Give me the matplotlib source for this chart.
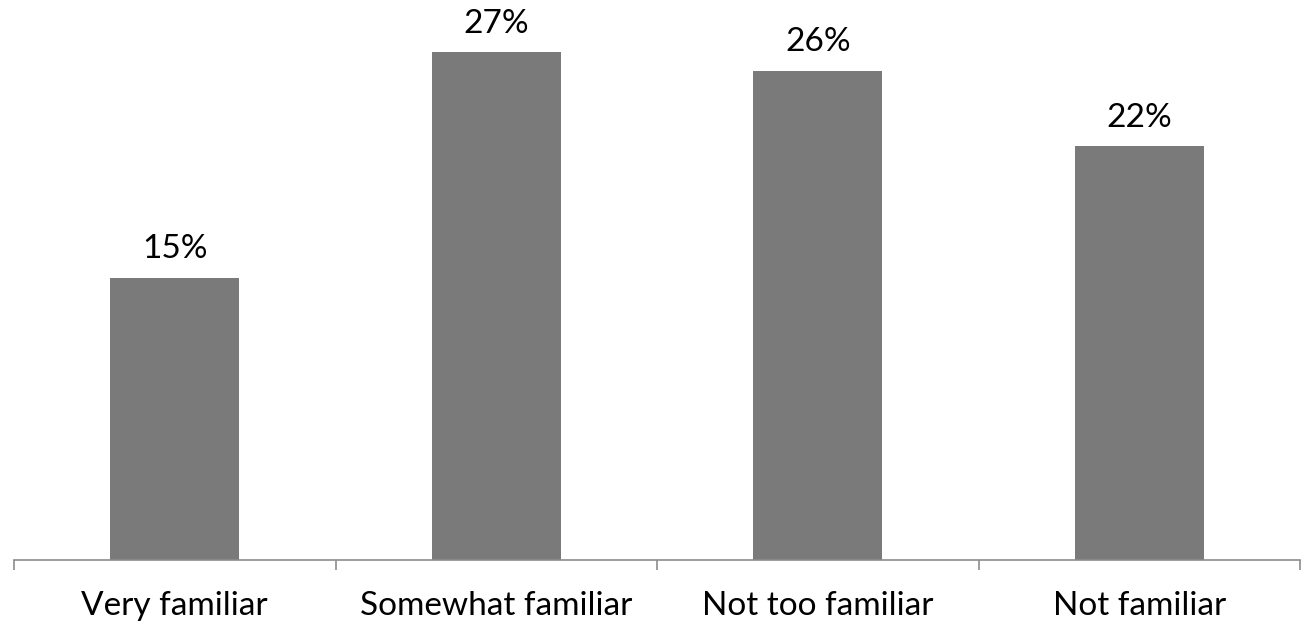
import matplotlib.pyplot as plt

# ---------- Data ----------
categories = ["Very familiar", "Somewhat familiar", "Not too familiar", "Not familiar"]
values = [15, 27, 26, 22]
value_labels = ["15%", "27%", "26%", "22%"]

plt.rcParams['font.family'] = ['Lato', 'DejaVu Sans']

fig = plt.figure(figsize=(13.01, 6.21), dpi=100)
ax = fig.add_axes([14 / 1301, 61 / 621, 1286 / 1301, 560 / 621])

x = range(len(categories))
bars = ax.bar(x, values, width=0.4, color="#7a7a7a", zorder=2)

for b, lab in zip(bars, value_labels):
    ax.annotate(lab, (b.get_x() + b.get_width() / 2, b.get_height()),
                xytext=(0, 14), textcoords="offset points",
                ha="center", va="baseline", fontsize=24, color="black")

ax.set_xlim(-0.5, len(categories) - 0.5)
ax.set_ylim(0, 29.77)

# category labels under the axis, separator ticks between categories
ax.set_xticks(list(x))
ax.set_xticklabels(categories, fontsize=24)
ax.tick_params(axis="x", which="major", length=0, pad=22)
ax.set_xticks([i - 0.5 for i in range(len(categories) + 1)], minor=True)
ax.tick_params(axis="x", which="minor", length=7.5, width=1.2, color="#8c8c8c", direction="out")
ax.set_yticks([])

for side in ["top", "right", "left"]:
    ax.spines[side].set_visible(False)
ax.spines["bottom"].set_color("#8c8c8c")
ax.spines["bottom"].set_linewidth(1.2)

fig.savefig("out.png", dpi=100)
